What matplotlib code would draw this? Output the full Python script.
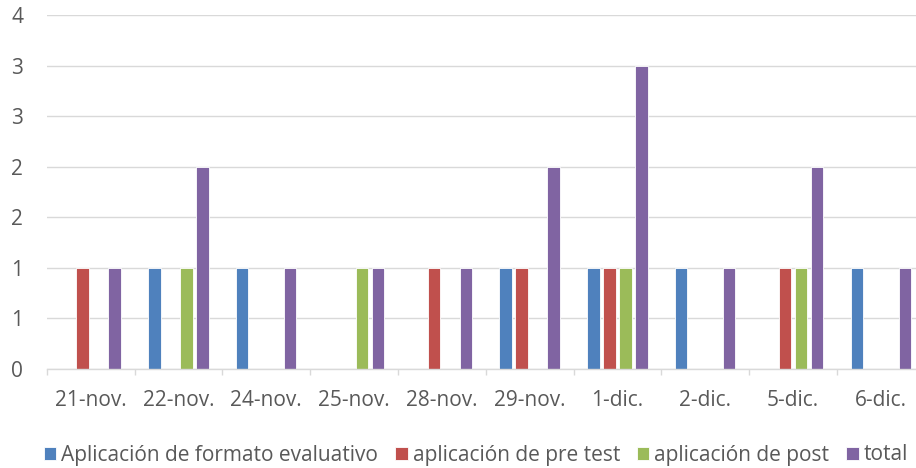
import numpy as np
import matplotlib
matplotlib.use("Agg")
import matplotlib.pyplot as plt
from matplotlib.ticker import FixedLocator

categories = ["21-nov.", "22-nov.", "24-nov.", "25-nov.", "28-nov.", "29-nov.",
              "1-dic.", "2-dic.", "5-dic.", "6-dic."]
series_names = ["Aplicación de formato evaluativo", "aplicación de pre test",
                "aplicación de post", "total"]
formato = [0, 1, 1, 0, 0, 1, 1, 1, 0, 1]
pre_test = [1, 0, 0, 0, 1, 1, 1, 0, 1, 0]
post = [0, 1, 0, 1, 0, 0, 1, 0, 1, 0]
total = [1, 2, 1, 1, 1, 2, 3, 1, 2, 1]
y_ticks = [0, 0.5, 1, 1.5, 2, 2.5, 3, 3.5]
y_tick_labels = ["0", "1", "1", "2", "2", "3", "3", "4"]

colors = ["#4F81BD", "#C0504D", "#9BBB59", "#8064A2"]
text_color = "#595959"
grid_color = "#D9D9D9"

plt.rcParams['font.family'] = ['Open Sans', 'DejaVu Sans']

W, H = 916, 468
fig = plt.figure(figsize=(W / 100, H / 100), dpi=100)
ax = fig.add_axes([46.7 / W, (H - 369) / H, 878 / W, (369 - 15) / H])

x = np.arange(len(categories))
step = 0.182
width = 0.142
all_series = [formato, pre_test, post, total]
for i, (vals, name, c) in enumerate(zip(all_series, series_names, colors)):
    ax.bar(x + (i - 1.5) * step, vals, width=width, color=c, label=name,
           edgecolor="white", linewidth=0.6, zorder=3)

ax.set_xlim(-0.5, len(categories) - 0.5)
ax.set_ylim(0, 3.5)
ax.set_yticks(y_ticks)
ax.set_yticklabels(y_tick_labels)
ax.set_xticks(x)
ax.set_xticklabels(categories)
ax.xaxis.set_minor_locator(FixedLocator(np.arange(-0.5, len(categories), 1.0)))

fs = 15
ax.tick_params(axis="x", which="major", length=0, pad=15, labelsize=fs,
               labelcolor=text_color)
ax.tick_params(axis="x", which="minor", length=4, width=1, color=grid_color)
ax.tick_params(axis="y", length=0, pad=17, labelsize=fs, labelcolor=text_color)
for lab in ax.get_yticklabels():
    lab.set_horizontalalignment("right")

ax.grid(axis="y", color=grid_color, linewidth=1, zorder=0)
for s in ["top", "right", "left"]:
    ax.spines[s].set_visible(False)
ax.spines["bottom"].set_color(grid_color)
ax.spines["bottom"].set_linewidth(1)
ax.spines["bottom"].set_zorder(4)

leg = fig.legend(loc="center", bbox_to_anchor=(476 / W, 1 - 455 / H), ncol=4,
                 frameon=False, handlelength=0.6, handleheight=0.6,
                 handletextpad=0.25, columnspacing=0.8, fontsize=fs,
                 labelcolor=text_color, borderaxespad=0)

fig.savefig("out.png", dpi=100)
